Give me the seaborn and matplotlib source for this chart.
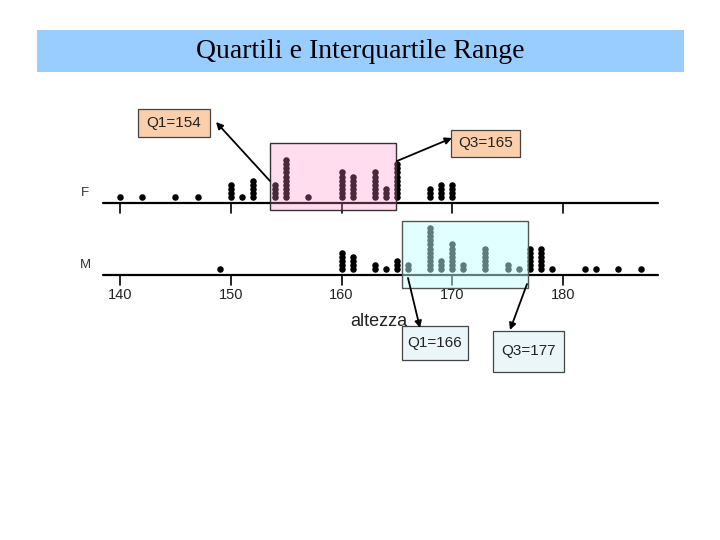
import numpy as np
import pandas as pd
import matplotlib
matplotlib.use("Agg")
import matplotlib.pyplot as plt
import seaborn as sns
from matplotlib.patches import Rectangle

# dati: altezze e numero di osservazioni per ogni valore
F_vals = [140, 142, 145, 147, 150, 151, 152, 154, 155, 157, 160, 161, 163, 164, 165, 168, 169, 170]
F_counts = [1, 1, 1, 1, 4, 1, 5, 4, 10, 1, 7, 6, 7, 3, 9, 3, 4, 4]
M_vals = [149, 160, 161, 163, 164, 165, 166, 168, 169, 170, 171, 173, 175, 176, 177, 178, 179, 182, 183, 185, 187]
M_counts = [1, 5, 4, 2, 1, 3, 2, 11, 3, 7, 2, 6, 2, 1, 6, 6, 1, 1, 1, 1, 1]
tick_vals = [140, 150, 160, 170, 180]
quart_F = (154, 165)
quart_M = (166, 177)

# layout in pixel (y verso il basso)
PX_PER_UNIT = 11.075
X0_PX = 120  # posizione di 140
base_y = {"F": 203, "M": 275}
pitch = 4.1


def px2x(px):
    return 140 + (px - X0_PX) / PX_PER_UNIT


rows = []
for grp, vals, cnts in [("F", F_vals, F_counts), ("M", M_vals, M_counts)]:
    for v, n in zip(vals, cnts):
        for k in range(n):
            rows.append({"gruppo": grp, "altezza": v, "ypix": base_y[grp] - 6 - k * pitch})
df = pd.DataFrame(rows)

sns.set_theme(style="white")
plt.rcParams["font.family"] = ["Liberation Sans", "DejaVu Sans"]

fig = plt.figure(figsize=(7.2, 5.4), dpi=100)
ax = fig.add_axes([0, 0, 1, 1])
ax.set_xlim(px2x(0), px2x(720))
ax.set_ylim(540, 0)
ax.axis("off")

# barra del titolo
fig.patches.append(Rectangle((37 / 720, 1 - 72 / 540), 647 / 720, 42 / 540,
                             transform=fig.transFigure, facecolor="#99ccff", edgecolor="none", zorder=0))
fig.text(0.5, 1 - 51 / 540, "Quartili e Interquartile Range", ha="center", va="center",
         fontsize=20, family="Liberation Serif", color="black")

# assi dei due gruppi
for grp in ["F", "M"]:
    y0 = base_y[grp]
    ax.plot([px2x(103), px2x(658)], [y0, y0], color="black", lw=1.6, zorder=2)
    for t in tick_vals:
        ax.plot([t, t], [y0, y0 + 10], color="black", lw=1.2, zorder=2)
    ax.text(px2x(85), y0 - 10, grp, ha="center", va="center", fontsize=9.5, color="#333333")
for t in tick_vals:
    ax.text(t, 295, str(t), ha="center", va="center", fontsize=10.5, color="#222222")
ax.text(px2x(379), 321, "altezza", ha="center", va="center", fontsize=13, color="#222222")

sns.scatterplot(data=df, x="altezza", y="ypix", color="black", s=22, linewidth=0,
                ax=ax, legend=False, zorder=3)
ax.set_xlabel("")
ax.set_ylabel("")

# riquadri interquartili (semitrasparenti sopra i punti)
ax.add_patch(Rectangle((quart_F[0] - 0.46, 143), quart_F[1] - quart_F[0] + 0.36, 67,
                       facecolor=(1.0, 0.54, 0.78, 0.29), edgecolor="#333333", lw=1, zorder=4))
ax.add_patch(Rectangle((quart_M[0] - 0.5, 221), quart_M[1] - quart_M[0] + 0.37, 67,
                       facecolor=(0.76, 1.0, 1.0, 0.49), edgecolor="#555555", lw=1, zorder=4))

# etichette dei quartili
ov = fig.add_axes([0, 0, 1, 1])
ov.set_xlim(0, 720)
ov.set_ylim(540, 0)
ov.axis("off")
ov.patch.set_alpha(0)

labels = [
    ("Q1={}".format(quart_F[0]), (138, 109, 72, 28), "#fbcfac", (216, 122), (270, 181)),
    ("Q3={}".format(quart_F[1]), (451, 130, 69, 27), "#fbcfac", (452, 138), (397, 161)),
    ("Q1={}".format(quart_M[0]), (402, 326, 66, 34), "#eaf6f8", (420, 328), (408, 278)),
    ("Q3={}".format(quart_M[1]), (493, 331, 71, 41), "#eaf6f8", (510, 330), (527, 284)),
]
for txt, (bx, by, bw, bh), fc, tip, start in labels:
    ov.add_patch(Rectangle((bx, by), bw, bh, facecolor=fc, edgecolor="#444444", lw=0.9, zorder=5))
    ov.text(bx + bw / 2, by + bh / 2, txt, ha="center", va="center", fontsize=11, color="#222222", zorder=6)
    ov.annotate("", xy=tip, xytext=start,
                arrowprops=dict(arrowstyle="-|>", color="black", lw=1.3, mutation_scale=10,
                                shrinkA=0, shrinkB=0), zorder=6)

fig.savefig("out.png", dpi=100, facecolor="white")
